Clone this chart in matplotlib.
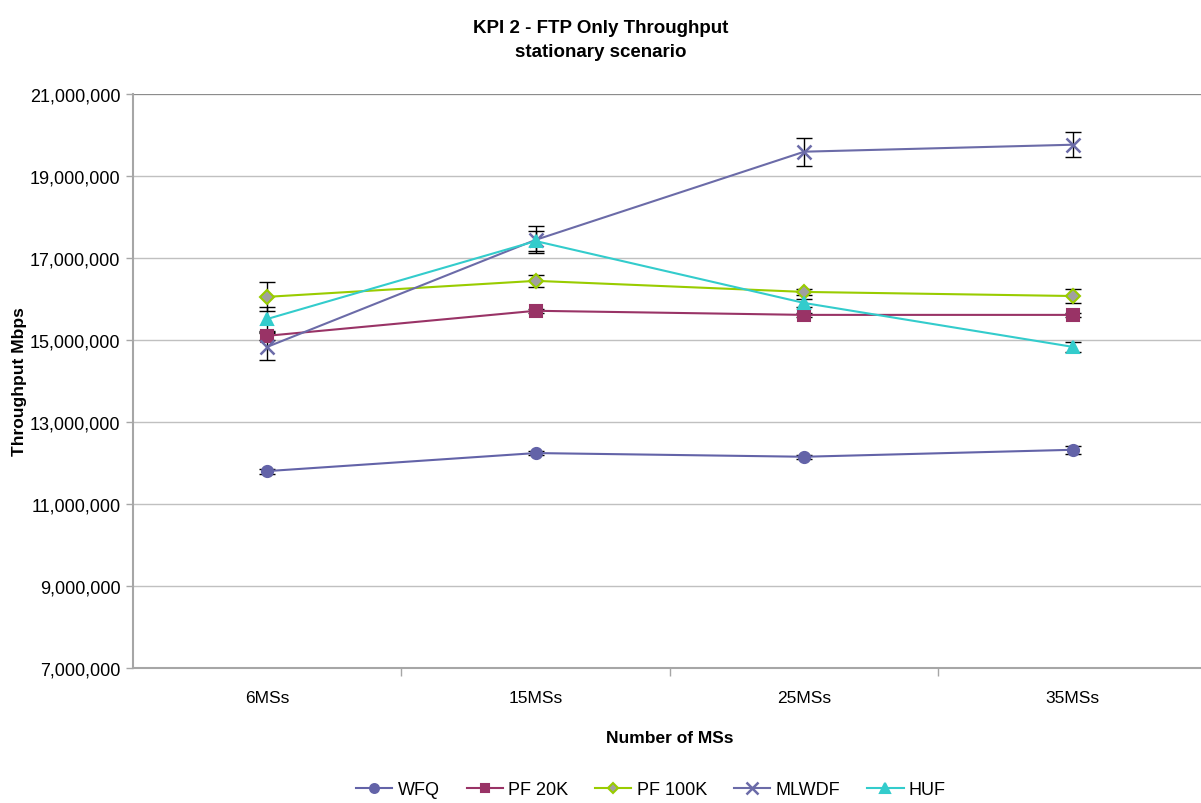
import matplotlib.pyplot as plt
import numpy as np
from matplotlib.ticker import FuncFormatter

plt.rcParams['font.family'] = ['Liberation Sans', 'DejaVu Sans']

categories = ['6MSs', '15MSs', '25MSs', '35MSs']

wfq = [11.80e6, 12.24e6, 12.15e6, 12.32e6]
wfq_err = [0.06e6, 0.05e6, 0.05e6, 0.10e6]
pf20k = [15.10e6, 15.71e6, 15.61e6, 15.61e6]
pf20k_err = [0.10e6, 0.05e6, 0.05e6, 0.05e6]
pf100k = [16.05e6, 16.44e6, 16.17e6, 16.07e6]
pf100k_err = [0.35e6, 0.15e6, 0.08e6, 0.18e6]
mlwdf = [14.83e6, 17.44e6, 19.59e6, 19.76e6]
mlwdf_err = [0.33e6, 0.33e6, 0.34e6, 0.30e6]
huf = [15.51e6, 17.41e6, 15.90e6, 14.83e6]
huf_err = [0.30e6, 0.25e6, 0.10e6, 0.12e6]

fig = plt.figure(figsize=(12.01, 8.04), dpi=100)
ax = fig.add_axes([0.1107, 0.168, 0.8943, 0.714])

x = np.arange(len(categories))

series = [
    ('WFQ', wfq, wfq_err, '#6363a8', 'o', '#6363a8', '#6363a8', 8),
    ('PF 20K', pf20k, pf20k_err, '#993366', 's', '#993366', '#993366', 8),
    ('PF 100K', pf100k, pf100k_err, '#99cc00', 'D', '#a0a0a0', '#99cc00', 7),
    ('MLWDF', mlwdf, mlwdf_err, '#6b6ba8', 'x', '#6b6ba8', '#6b6ba8', 10),
    ('HUF', huf, huf_err, '#33cccc', '^', '#33cccc', '#33cccc', 9),
]

# error bars first, then the lines with markers on top
for name, vals, err, col, mk, fc, ec, ms in series:
    ax.errorbar(x, vals, yerr=err, fmt='none', ecolor='black', elinewidth=1,
                capsize=6, capthick=1, zorder=2)
    ax.plot(x, vals, color=col, lw=1.5, marker=mk, markersize=ms,
            markerfacecolor=fc, markeredgecolor=ec, markeredgewidth=1.8 if mk == 'x' else 1.5,
            label=name, zorder=3)

ax.set_xlim(-0.5, 3.5)
ax.set_ylim(7e6, 21e6)
ax.set_yticks(np.arange(7e6, 21e6 + 1, 2e6))
ax.yaxis.set_major_formatter(FuncFormatter(lambda v, p: f'{int(v):,}'))
ax.set_xticks(x)
ax.set_xticklabels(categories)
ax.set_xticks([0.5, 1.5, 2.5], minor=True)

ax.grid(axis='y', color='#c0c0c0', lw=1)
ax.set_axisbelow(True)
for s in ['top', 'right']:
    ax.spines[s].set_visible(False)
for s in ['left', 'bottom']:
    ax.spines[s].set_color('#a6a6a6')
    ax.spines[s].set_linewidth(1.5)
ax.axhline(21e6, color='#8c8c8c', lw=1.5, zorder=1)

ax.tick_params(axis='x', which='major', length=0, pad=16, labelsize=12.5)
ax.tick_params(axis='x', which='minor', length=6, color='#a6a6a6', width=1)
ax.tick_params(axis='y', length=5, color='#a6a6a6', width=1, labelsize=13, pad=4)

ax.set_xlabel('Number of MSs', fontsize=12.5, fontweight='bold', labelpad=18)
ax.set_ylabel('Throughput Mbps', fontsize=12.5, fontweight='bold')
ax.yaxis.set_label_coords(-0.099, 0.5)

fig.text(0.5, 0.975, 'KPI 2 - FTP Only Throughput\nstationary scenario', ha='center', va='top',
         fontsize=13.5, fontweight='bold', linespacing=1.5)

fig.legend(loc='lower center', bbox_to_anchor=(0.542, -0.014), ncol=5, frameon=False,
           fontsize=13, handlelength=2.0, columnspacing=1.5, handletextpad=0.3,
           markerscale=0.8)

fig.savefig('out.png', dpi=100)
